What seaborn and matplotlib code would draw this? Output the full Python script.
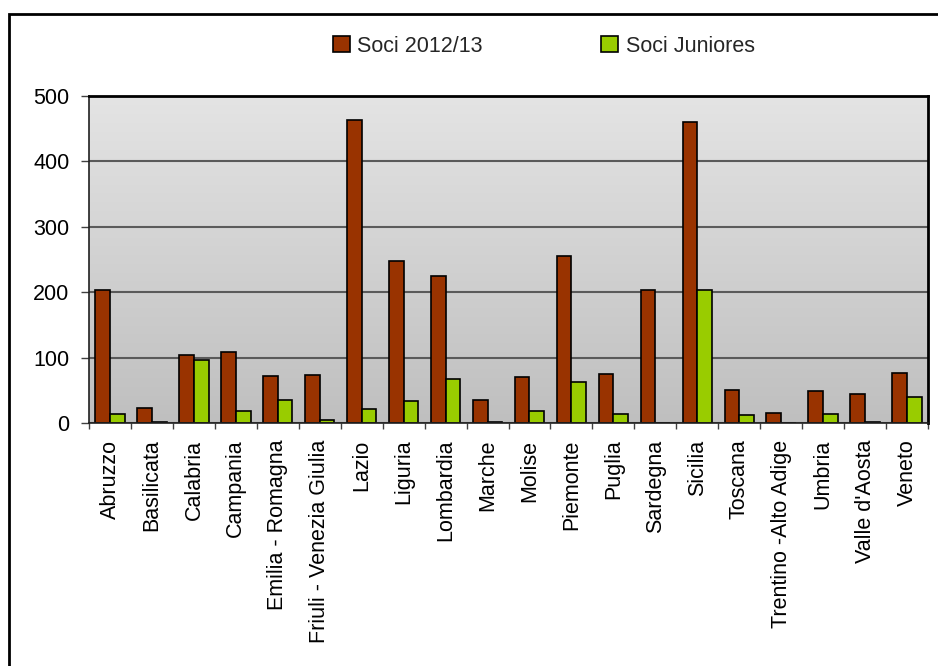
import numpy as np
import pandas as pd
import matplotlib
matplotlib.use("Agg")
import matplotlib.pyplot as plt
from matplotlib.patches import Rectangle
from matplotlib.ticker import FixedLocator
from matplotlib.colors import LinearSegmentedColormap
import seaborn as sns

regions = ["Abruzzo", "Basilicata", "Calabria", "Campania", "Emilia - Romagna",
           "Friuli - Venezia Giulia", "Lazio", "Liguria", "Lombardia", "Marche",
           "Molise", "Piemonte", "Puglia", "Sardegna", "Sicilia", "Toscana",
           "Trentino -Alto Adige", "Umbria", "Valle d'Aosta", "Veneto"]
soci = [204, 23, 104, 109, 72, 74, 463, 248, 225, 35, 70, 255, 75, 204, 461, 51, 16, 49, 44, 77]
juniores = [14, 2, 97, 18, 35, 4, 21, 33, 67, 2, 18, 63, 14, 0, 204, 12, 0, 14, 2, 39]
series_names = ["Soci 2012/13", "Soci Juniores"]
colors = ["#993300", "#99CC00"]
yticks = [0, 100, 200, 300, 400, 500]

df = pd.DataFrame({
    "Regione": regions * 2,
    "Serie": [series_names[0]] * len(regions) + [series_names[1]] * len(regions),
    "Valore": soci + juniores,
})

sns.set_theme(style="white")
plt.rcParams["font.family"] = ["Liberation Sans", "DejaVu Sans"]

W, H = 938, 666
fig = plt.figure(figsize=(W / 100, H / 100), dpi=100)
ax = fig.add_axes([89 / W, 1 - 423 / H, (928 - 89) / W, (423 - 96) / H])

# gradient background
grad = np.linspace(0, 1, 256).reshape(-1, 1)
cmap = LinearSegmentedColormap.from_list("bg", ["#e4e4e4", "#bfbfbf"])
ax.imshow(grad, extent=[0, 1, 0, 1], transform=ax.transAxes, cmap=cmap,
          aspect="auto", zorder=0, origin="upper")

sns.barplot(data=df, x="Regione", y="Valore", hue="Serie", palette=colors,
            saturation=1, width=0.7, edgecolor="black", linewidth=1.2, ax=ax,
            zorder=2, legend=True)

ax.set_xlim(-0.5, len(regions) - 0.5)
ax.set_ylim(0, 500)
ax.set_yticks(yticks)
ax.set_xlabel("")
ax.set_ylabel("")
ax.set_axisbelow(True)
ax.yaxis.grid(True, color="#5a5a5a", linewidth=1.5, zorder=1)
ax.xaxis.grid(False)

for s in ["left", "bottom"]:
    ax.spines[s].set_color("#202020")
    ax.spines[s].set_linewidth(1.2)
for s in ["top", "right"]:
    ax.spines[s].set_color("black")
    ax.spines[s].set_linewidth(2)

ax.tick_params(axis="y", which="major", left=True, length=6, width=1,
               color="#404040", pad=8, labelsize=15.5, labelcolor="black")
ax.tick_params(axis="x", which="major", bottom=True, length=0, pad=12,
               labelsize=15.5, labelcolor="black", labelrotation=90)
ax.xaxis.set_minor_locator(FixedLocator(np.arange(-0.5, len(regions), 1.0)))
ax.tick_params(axis="x", which="minor", bottom=True, length=4.5, width=1,
               color="#404040")

# legend at top
handles, labels = ax.get_legend_handles_labels()
ax.get_legend().remove()
fig.legend(handles, labels, loc="center left",
           bbox_to_anchor=(333 / W, 1 - 46 / H), ncol=2, frameon=False,
           fontsize=15.5, handlelength=0.78, handleheight=0.78,
           handletextpad=0.35, columnspacing=5.5, borderpad=0, borderaxespad=0)

# outer border
fig.patches.append(Rectangle((9 / W, -0.1), 1.2, 1 - 14 / H + 0.1,
                             transform=fig.transFigure, fill=False,
                             edgecolor="black", linewidth=2, zorder=10))

fig.savefig("out.png", dpi=100)
